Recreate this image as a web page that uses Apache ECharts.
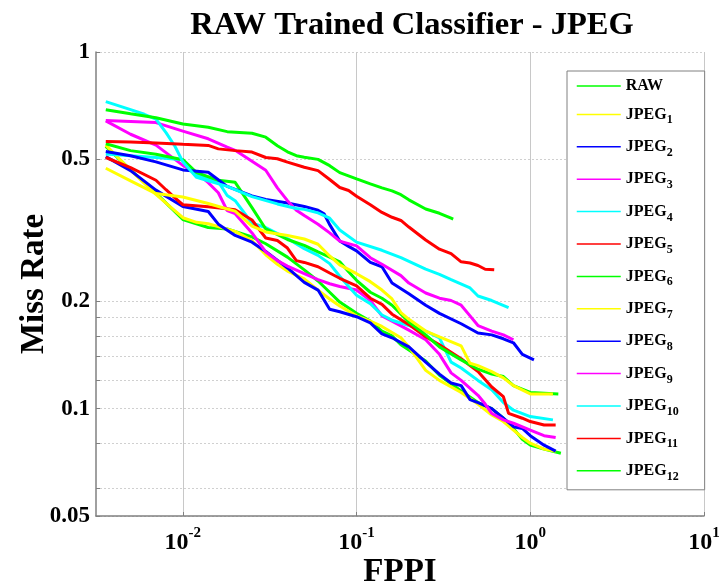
<!DOCTYPE html>
<html>
<head>
<meta charset="utf-8">
<script src="https://cdn.jsdelivr.net/npm/echarts@6.0.0/dist/echarts.min.js"></script>
<style>
html, body { margin: 0; padding: 0; background: #fff; }
#chart { width: 721px; height: 588px; }
</style>
</head>
<body>
<div id="chart"></div>
<script>
// ---- data (FPPI, miss rate) ----
const seriesNames = ['RAW','JPEG1','JPEG2','JPEG3','JPEG4','JPEG5','JPEG6','JPEG7','JPEG8','JPEG9','JPEG10','JPEG11','JPEG12'];
const seriesColors = ['#00ff00','#ffff00','#0000ff','#ff00ff','#00ffff','#ff0000','#00ff00','#ffff00','#0000ff','#ff00ff','#00ffff','#ff0000','#00ff00'];
const fppiTicks = [0.01, 0.1, 1, 10];
const missTicks = [0.05, 0.1, 0.2, 0.5, 1];
const missGrid = [0.05, 0.06, 0.08, 0.1, 0.12, 0.14, 0.16, 0.18, 0.2, 0.5, 1];

const RAW = [[0.0036,0.544],[0.005,0.467],[0.007,0.402],[0.01,0.339],[0.014,0.322],[0.018,0.319],[0.025,0.303],[0.03,0.290],[0.04,0.266],[0.05,0.245],[0.06,0.228],[0.07,0.212],[0.08,0.199],[0.1,0.185],[0.12,0.176],[0.14,0.165],[0.16,0.160],[0.18,0.151],[0.25,0.136],[0.3,0.124],[0.4,0.112],[0.5,0.104],[0.6,0.100],[0.7,0.094],[0.8,0.088],[0.9,0.082],[1.0,0.079],[1.2,0.077],[1.5,0.075]];
const JPEG1 = [[0.0036,0.548],[0.005,0.466],[0.007,0.399],[0.01,0.343],[0.012,0.333],[0.014,0.330],[0.02,0.314],[0.025,0.296],[0.03,0.270],[0.035,0.254],[0.04,0.243],[0.05,0.231],[0.06,0.215],[0.07,0.203],[0.08,0.194],[0.1,0.182],[0.12,0.176],[0.14,0.170],[0.18,0.158],[0.2,0.149],[0.25,0.128],[0.3,0.120],[0.4,0.111],[0.5,0.103],[0.6,0.096],[0.7,0.092],[0.8,0.087],[0.9,0.083],[1.0,0.080],[1.2,0.077],[1.4,0.076]];
const JPEG2 = [[0.0036,0.509],[0.005,0.465],[0.007,0.410],[0.01,0.369],[0.014,0.357],[0.016,0.329],[0.02,0.306],[0.025,0.293],[0.03,0.276],[0.04,0.248],[0.05,0.226],[0.06,0.215],[0.07,0.190],[0.08,0.187],[0.1,0.181],[0.12,0.174],[0.14,0.162],[0.16,0.158],[0.2,0.149],[0.25,0.135],[0.3,0.125],[0.35,0.118],[0.4,0.116],[0.45,0.106],[0.5,0.104],[0.6,0.100],[0.7,0.094],[0.8,0.089],[0.9,0.088],[1.0,0.084],[1.2,0.079],[1.4,0.076]];
const JPEG3 = [[0.0036,0.641],[0.005,0.588],[0.007,0.548],[0.01,0.481],[0.012,0.458],[0.014,0.430],[0.016,0.403],[0.018,0.359],[0.02,0.352],[0.025,0.311],[0.03,0.275],[0.035,0.260],[0.04,0.251],[0.05,0.239],[0.06,0.230],[0.07,0.224],[0.08,0.220],[0.1,0.215],[0.12,0.201],[0.14,0.182],[0.16,0.176],[0.2,0.166],[0.25,0.156],[0.3,0.142],[0.35,0.126],[0.4,0.120],[0.5,0.109],[0.55,0.103],[0.6,0.097],[0.7,0.093],[0.8,0.091],[1.0,0.087],[1.2,0.084],[1.4,0.083]];
const JPEG4 = [[0.0036,0.518],[0.005,0.512],[0.007,0.506],[0.01,0.499],[0.012,0.451],[0.014,0.441],[0.016,0.433],[0.018,0.396],[0.02,0.383],[0.025,0.331],[0.03,0.322],[0.04,0.300],[0.05,0.281],[0.06,0.269],[0.07,0.255],[0.08,0.235],[0.09,0.220],[0.1,0.208],[0.12,0.197],[0.14,0.183],[0.16,0.177],[0.2,0.171],[0.25,0.165],[0.3,0.158],[0.35,0.135],[0.4,0.130],[0.5,0.120],[0.6,0.113],[0.7,0.104],[0.8,0.099],[1.0,0.095],[1.35,0.093]];
const JPEG5 = [[0.0036,0.506],[0.005,0.474],[0.007,0.437],[0.008,0.411],[0.009,0.390],[0.01,0.373],[0.014,0.368],[0.02,0.361],[0.025,0.338],[0.03,0.301],[0.035,0.296],[0.04,0.282],[0.045,0.260],[0.05,0.257],[0.06,0.250],[0.07,0.240],[0.08,0.232],[0.1,0.221],[0.12,0.204],[0.14,0.196],[0.16,0.184],[0.2,0.172],[0.25,0.159],[0.3,0.151],[0.4,0.138],[0.5,0.127],[0.6,0.115],[0.7,0.108],[0.75,0.097],[0.9,0.094],[1.0,0.092],[1.2,0.090],[1.4,0.090]];
const JPEG6 = [[0.0036,0.553],[0.005,0.529],[0.007,0.517],[0.01,0.499],[0.012,0.459],[0.016,0.437],[0.02,0.431],[0.025,0.366],[0.03,0.319],[0.04,0.298],[0.05,0.287],[0.06,0.275],[0.07,0.266],[0.08,0.258],[0.09,0.242],[0.1,0.229],[0.12,0.212],[0.14,0.204],[0.16,0.195],[0.2,0.175],[0.25,0.161],[0.3,0.149],[0.4,0.137],[0.5,0.129],[0.6,0.125],[0.7,0.123],[0.8,0.116],[1.0,0.111],[1.45,0.110]];
const JPEG7 = [[0.0036,0.472],[0.005,0.435],[0.007,0.401],[0.01,0.392],[0.014,0.376],[0.018,0.363],[0.02,0.358],[0.025,0.325],[0.03,0.313],[0.04,0.306],[0.05,0.299],[0.06,0.289],[0.07,0.268],[0.08,0.253],[0.1,0.239],[0.12,0.227],[0.14,0.215],[0.16,0.203],[0.18,0.186],[0.2,0.178],[0.25,0.165],[0.3,0.159],[0.4,0.150],[0.45,0.134],[0.5,0.132],[0.6,0.127],[0.7,0.122],[0.8,0.116],[1.0,0.110],[1.35,0.110]];
const JPEG8 = [[0.0036,0.526],[0.005,0.512],[0.007,0.492],[0.01,0.467],[0.014,0.460],[0.018,0.420],[0.025,0.395],[0.03,0.386],[0.04,0.377],[0.05,0.369],[0.06,0.360],[0.065,0.352],[0.07,0.328],[0.08,0.295],[0.09,0.285],[0.1,0.277],[0.12,0.257],[0.14,0.250],[0.16,0.225],[0.2,0.210],[0.25,0.195],[0.3,0.185],[0.4,0.173],[0.5,0.163],[0.6,0.161],[0.7,0.157],[0.8,0.153],[0.9,0.142],[1.05,0.137]];
const JPEG9 = [[0.0036,0.643],[0.007,0.634],[0.01,0.600],[0.014,0.571],[0.018,0.541],[0.02,0.530],[0.025,0.494],[0.03,0.466],[0.035,0.416],[0.04,0.383],[0.045,0.360],[0.05,0.348],[0.06,0.329],[0.07,0.311],[0.08,0.295],[0.1,0.286],[0.12,0.265],[0.14,0.254],[0.18,0.236],[0.2,0.225],[0.25,0.211],[0.3,0.204],[0.35,0.201],[0.4,0.195],[0.45,0.182],[0.5,0.171],[0.6,0.165],[0.7,0.161],[0.8,0.156]];
const JPEG10 = [[0.0036,0.726],[0.005,0.689],[0.006,0.669],[0.007,0.648],[0.008,0.594],[0.009,0.544],[0.01,0.492],[0.012,0.445],[0.014,0.435],[0.018,0.420],[0.025,0.393],[0.035,0.375],[0.045,0.364],[0.05,0.362],[0.06,0.354],[0.07,0.342],[0.08,0.317],[0.1,0.293],[0.14,0.278],[0.18,0.265],[0.25,0.246],[0.3,0.238],[0.35,0.230],[0.45,0.218],[0.5,0.207],[0.6,0.201],[0.75,0.192]];
const JPEG11 = [[0.0036,0.561],[0.005,0.559],[0.007,0.556],[0.01,0.551],[0.014,0.547],[0.016,0.535],[0.02,0.529],[0.025,0.524],[0.03,0.506],[0.035,0.502],[0.04,0.491],[0.05,0.475],[0.06,0.465],[0.07,0.439],[0.08,0.417],[0.09,0.409],[0.1,0.394],[0.12,0.373],[0.14,0.355],[0.16,0.344],[0.18,0.337],[0.2,0.323],[0.25,0.297],[0.3,0.280],[0.35,0.272],[0.4,0.258],[0.45,0.256],[0.5,0.252],[0.55,0.246],[0.62,0.245]];
const JPEG12 = [[0.0036,0.689],[0.005,0.671],[0.007,0.654],[0.01,0.628],[0.014,0.615],[0.018,0.598],[0.025,0.592],[0.03,0.577],[0.035,0.546],[0.04,0.525],[0.045,0.512],[0.05,0.507],[0.06,0.500],[0.07,0.480],[0.08,0.459],[0.1,0.441],[0.12,0.427],[0.14,0.416],[0.16,0.408],[0.18,0.398],[0.2,0.385],[0.25,0.363],[0.3,0.353],[0.35,0.342],[0.36,0.340]];

const seriesData = [RAW, JPEG1, JPEG2, JPEG3, JPEG4, JPEG5, JPEG6, JPEG7, JPEG8, JPEG9, JPEG10, JPEG11, JPEG12];

const FONT = '"Liberation Serif", "Times New Roman", serif';

const chart = echarts.init(document.getElementById('chart'), null, { renderer: 'canvas' });

const option = {
  animation: false,
  backgroundColor: '#ffffff',
  title: {
    text: 'RAW Trained Classifier - JPEG',
    left: 412, top: 9, padding: 0, textAlign: 'center',
    textStyle: { fontFamily: FONT, fontWeight: 'bold', fontSize: 32.5, color: '#000' }
  },
  grid: { left: 96, right: 17, top: 52, bottom: 72, containLabel: false, outerBoundsMode: 'none' },
  legend: {
    orient: 'vertical', left: 567, top: 71,
    padding: [7, 26, 7, 9], itemGap: 8.4, itemWidth: 44, itemHeight: 14,
    backgroundColor: '#ffffff', borderColor: '#808080', borderWidth: 1, borderRadius: 0,
    selectedMode: false,
    lineStyle: { width: 1.5 },
    itemStyle: { opacity: 0 },
    data: seriesNames,
    formatter: function (name) {
      if (name === 'RAW') return '{a|RAW}';
      return '{a|JPEG}{s|' + name.slice(4) + '}';
    },
    textStyle: {
      fontFamily: FONT, fontWeight: 'bold', fontSize: 16, color: '#000',
      rich: {
        a: { fontFamily: FONT, fontWeight: 'bold', fontSize: 16, color: '#000', lineHeight: 24 },
        s: { fontFamily: FONT, fontWeight: 'bold', fontSize: 12, color: '#000', lineHeight: 12, padding: [12, 0, 0, 0] }
      }
    }
  },
  xAxis: {
    type: 'log', logBase: 10, min: Math.pow(10, -2.5), max: 10,
    name: 'FPPI', nameLocation: 'middle', nameGap: 40, nameMoveOverlap: false,
    nameTextStyle: { fontFamily: FONT, fontWeight: 'bold', fontSize: 33, color: '#000' },
    axisLine: { show: true, lineStyle: { color: '#808080', width: 1.5 } },
    axisTick: { show: true, inside: true, length: 4, customValues: fppiTicks, lineStyle: { color: '#808080' } },
    minorTick: { show: false },
    axisLabel: {
      customValues: fppiTicks, margin: 10,
      formatter: function (v) { return '{b|10}{s|' + Math.round(Math.log10(v)) + '}'; },
      rich: {
        b: { fontFamily: FONT, fontWeight: 'bold', fontSize: 24, color: '#000' },
        s: { fontFamily: FONT, fontWeight: 'bold', fontSize: 15, color: '#000', padding: [0, 0, 18, 0] }
      }
    },
    splitLine: { show: true, lineStyle: { color: '#c8c8c8', width: 1 } }
  },
  yAxis: {
    type: 'log', logBase: 10, min: 0.05, max: 1,
    name: 'Miss Rate', nameLocation: 'middle', nameGap: 45, nameRotate: 90, nameMoveOverlap: false,
    nameTextStyle: { fontFamily: FONT, fontWeight: 'bold', fontSize: 33, color: '#000' },
    axisLine: { show: true, lineStyle: { color: '#808080', width: 1.5 } },
    axisTick: { show: true, inside: true, length: 4, customValues: missGrid, lineStyle: { color: '#808080' } },
    minorTick: { show: false },
    axisLabel: {
      customValues: missTicks, margin: 6,
      fontFamily: FONT, fontWeight: 'bold', fontSize: 23, color: '#000',
      formatter: function (v) { return String(+(+v).toPrecision(3)); }
    },
    splitLine: { show: true, lineStyle: { color: '#d0d0d0', width: 1, type: [2, 2] } }
  },
  series: seriesNames.map(function (name, i) {
    return {
      name: name, type: 'line', data: seriesData[i],
      symbol: 'none', showSymbol: false,
      lineStyle: { width: 3, color: seriesColors[i] },
      itemStyle: { color: seriesColors[i] },
      emphasis: { disabled: true }
    };
  })
};

chart.setOption(option);
</script>
</body>
</html>
